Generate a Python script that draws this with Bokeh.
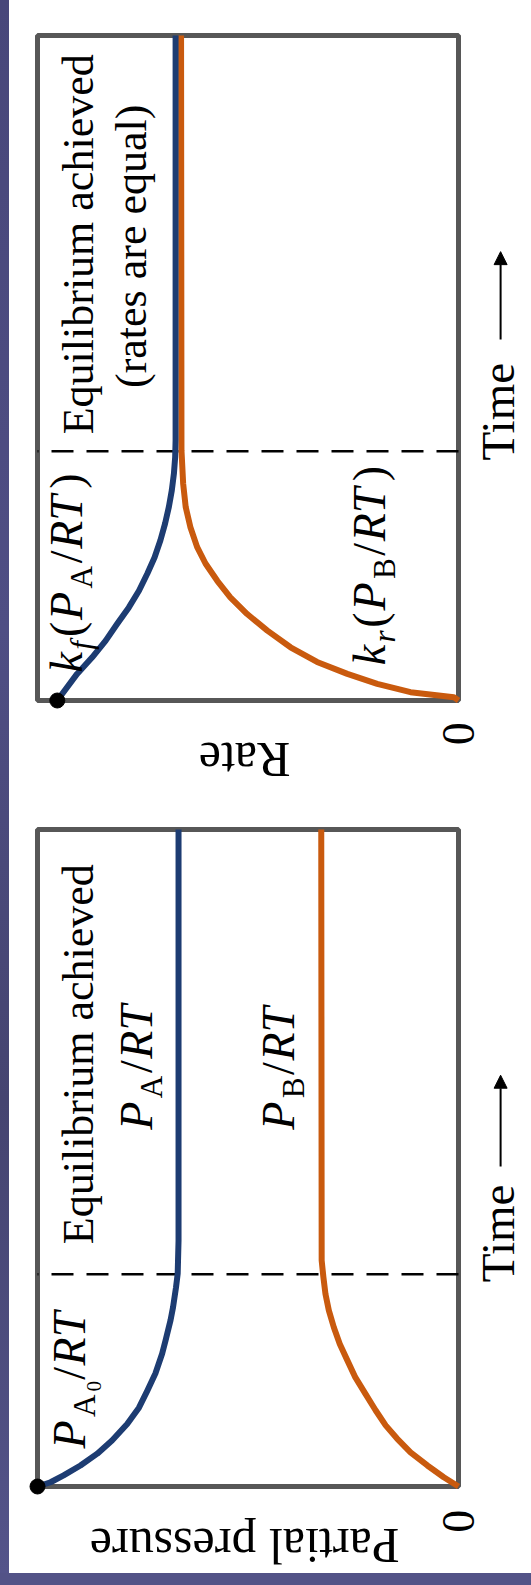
from math import pi

from bokeh.embed import file_html
from bokeh.layouts import column, row
from bokeh.models import Arrow, Label, NormalHead, Range1d, Spacer
from bokeh.plotting import figure
from bokeh.resources import INLINE

# Reaction A <=> B, time in arbitrary units (0..10); values scaled so P_A0/RT = 1.
# Rate panel: forward rate kf(PA/RT) and reverse rate kr(PB/RT)
rate_t_fwd = [0.0, 0.40, 0.65, 0.90, 1.15, 1.40, 1.65, 1.91, 2.15, 2.41, 2.66, 2.91, 3.16, 3.41, 3.66, 3.91, 10.0]
rate_fwd = [0.953, 0.906, 0.870, 0.838, 0.811, 0.783, 0.759, 0.739, 0.722, 0.708, 0.697, 0.688, 0.681, 0.676, 0.673, 0.672, 0.672]
rate_t_rev = [0.0, 0.05, 0.125, 0.25, 0.40, 0.58, 0.80, 1.05, 1.30, 1.55, 1.80, 2.06, 2.31, 2.61, 2.91, 3.26, 3.76, 10.0]
rate_rev = [0.0, 0.011, 0.114, 0.193, 0.264, 0.336, 0.399, 0.454, 0.502, 0.542, 0.573, 0.601, 0.621, 0.637, 0.648, 0.654, 0.658, 0.659]
rate_t_eq = 3.75

# Partial-pressure panel: PA/RT and PB/RT
pp_t_a = [0.0, 0.065, 0.17, 0.32, 0.50, 0.70, 0.95, 1.20, 1.46, 1.72, 2.02, 2.22, 2.53, 2.73, 3.03, 3.24, 3.74, 10.0]
pp_a = [1.0, 0.969, 0.938, 0.898, 0.858, 0.823, 0.787, 0.759, 0.739, 0.720, 0.704, 0.696, 0.684, 0.678, 0.671, 0.667, 0.665, 0.665]
pp_t_b = [0.0, 0.14, 0.32, 0.52, 0.73, 0.93, 1.16, 1.41, 1.66, 1.92, 2.17, 2.42, 2.68, 2.93, 3.19, 3.44, 10.0]
pp_b = [0.0, 0.035, 0.074, 0.114, 0.146, 0.173, 0.197, 0.221, 0.245, 0.264, 0.282, 0.296, 0.308, 0.316, 0.321, 0.325, 0.326]
pp_t_eq = 3.23

value_ticks = [0]
value_tick_labels = ["0"]
T_MAX = 10.0
V_MAX = 1.0

BLUE = "#1d3c72"
ORANGE = "#c95a0e"
FRAME = "#575757"
SERIF = "Liberation Serif"

FIG_W = 522
BOX_LEFT = 28   # px from the figure's left edge to the box
BOX_W = 421     # px for one value unit (the box width)
BASE_SHIFT = 0.35  # em; moves the anchor from the em middle onto the baseline
CURVE_W = 6

# Times-compatible advance widths (em) for the math labels
W_ROMAN = {"(": 0.333, ")": 0.333, "/": 0.278, "A": 0.722, "B": 0.667, "0": 0.5}
W_ITAL = {"k": 0.444, "f": 0.36, "r": 0.42, "P": 0.611, "R": 0.611, "T": 0.556}


def make_panel(height, box_top, box_h):
    ppt = box_h / T_MAX
    p = figure(
        width=FIG_W, height=height, min_border=0,
        x_axis_location=None, y_axis_location=None,
        toolbar_location=None, output_backend="svg",
        background_fill_color="white", border_fill_color="white",
        outline_line_color=None,
    )
    # value grows to the left, time grows upward
    p.x_range = Range1d(V_MAX + BOX_LEFT / BOX_W, -(FIG_W - BOX_LEFT - BOX_W) / BOX_W)
    p.y_range = Range1d(-(height - box_top - box_h) / ppt, T_MAX + box_top / ppt)
    p.grid.visible = False
    p.quad(left=0, right=V_MAX, bottom=0, top=T_MAX, fill_color=None,
           line_color=FRAME, line_width=5)
    return p, ppt


def text(p, ppt, x, y, s, size, angle=pi / 2, align="center", baseline="alphabetic", style="normal"):
    if baseline == "alphabetic":
        if angle == pi / 2:
            x += BASE_SHIFT * size / BOX_W
        else:
            y -= BASE_SHIFT * size / ppt
    p.add_layout(Label(x=x, y=y, text=s, angle=angle, text_align=align,
                       text_baseline=baseline, text_font=SERIF, text_font_style=style,
                       text_font_size=f"{size:.1f}px", text_color="black"))


def math_text(p, ppt, v_base, t_start, pieces, size, spacing=1.12):
    """Lay out a rotated formula piece by piece; level 1/2 are (sub)subscripts."""
    t = t_start
    for s, italic, level in pieces:
        fs = size * (0.68 ** level)
        shift = [0.0, 0.22 * size, 0.34 * size][level]
        text(p, ppt, v_base - shift / BOX_W, t, s, fs, align="left",
             style="italic" if italic else "normal")
        widths = W_ITAL if italic else W_ROMAN
        t += sum(widths[c] for c in s) * fs * spacing / ppt


def time_label(p, ppt, t_text, t_arrow0, t_arrow1):
    text(p, ppt, -0.133, t_text, "Time", 47, align="left")
    p.add_layout(Arrow(end=NormalHead(size=13, fill_color="black", line_color="black"),
                       x_start=-0.1, y_start=t_arrow0, x_end=-0.1, y_end=t_arrow1,
                       line_width=2, line_color="black"))


# ---------------- rate panel ----------------
pr, rppt = make_panel(790, 35, 665)
pr.line([0, V_MAX], [rate_t_eq, rate_t_eq], line_color="black", line_width=2.5, line_dash="22 13")
pr.line(rate_rev, rate_t_rev, line_color=ORANGE, line_width=CURVE_W, line_join="round")
pr.line(rate_fwd, rate_t_fwd, line_color=BLUE, line_width=CURVE_W, line_join="round")
pr.scatter([rate_fwd[0]], [rate_t_fwd[0]], size=15, color="black")

text(pr, rppt, 0.867, 6.86, "Equilibrium achieved", 44)
text(pr, rppt, 0.741, 6.83, "(rates are equal)", 44)
math_text(pr, rppt, 0.893, 0.42, [("k", True, 0), ("f", True, 1), ("(", False, 0), ("P", True, 0),
                                  ("A", False, 1), ("/", False, 0), ("RT", True, 0), (")", False, 0)], 46)
math_text(pr, rppt, 0.173, 0.53, [("k", True, 0), ("r", True, 1), ("(", False, 0), ("P", True, 0),
                                  ("B", False, 1), ("/", False, 0), ("RT", True, 0), (")", False, 0)], 46)
text(pr, rppt, value_ticks[0], -0.50, value_tick_labels[0], 46, baseline="middle")
text(pr, rppt, 0.508, -0.63, "Rate", 50, angle=pi)
time_label(pr, rppt, 3.61, 5.43, 6.75)

# ---------------- partial pressure panel ----------------
pp, pppt = make_panel(783, 39, 657)
pp.line([0, V_MAX], [pp_t_eq, pp_t_eq], line_color="black", line_width=2.5, line_dash="22 13")
pp.line(pp_b, pp_t_b, line_color=ORANGE, line_width=CURVE_W, line_join="round")
pp.line(pp_a, pp_t_a, line_color=BLUE, line_width=CURVE_W, line_join="round")
pp.scatter([pp_a[0]], [pp_t_a[0]], size=15, color="black")

text(pp, pppt, 0.867, 6.58, "Equilibrium achieved", 44)
math_text(pp, pppt, 0.727, 5.43, [("P", True, 0), ("A", False, 1), ("/", False, 0), ("RT", True, 0)], 46)
math_text(pp, pppt, 0.390, 5.43, [("P", True, 0), ("B", False, 1), ("/", False, 0), ("RT", True, 0)], 46)
math_text(pp, pppt, 0.886, 0.58, [("P", True, 0), ("A", False, 1), ("0", False, 2), ("/", False, 0),
                                  ("RT", True, 0)], 46)
text(pp, pppt, value_ticks[0], -0.53, value_tick_labels[0], 46, baseline="middle")
text(pp, pppt, 0.508, -0.64, "Partial pressure", 50, angle=pi)
time_label(pp, pppt, 3.11, 4.87, 6.26)

left_strip = Spacer(width=9, height=1573,
                    styles={"background": "linear-gradient(180deg, #48477a, #4f4e84 40%, #454470 70%, #54548a)"})
bottom_strip = Spacer(width=531, height=12, styles={"background-color": "#535387"})
page = column(row(left_strip, column(pr, pp, spacing=0), spacing=0), bottom_strip, spacing=0)

open("out.html", "w").write(file_html(page, INLINE))
